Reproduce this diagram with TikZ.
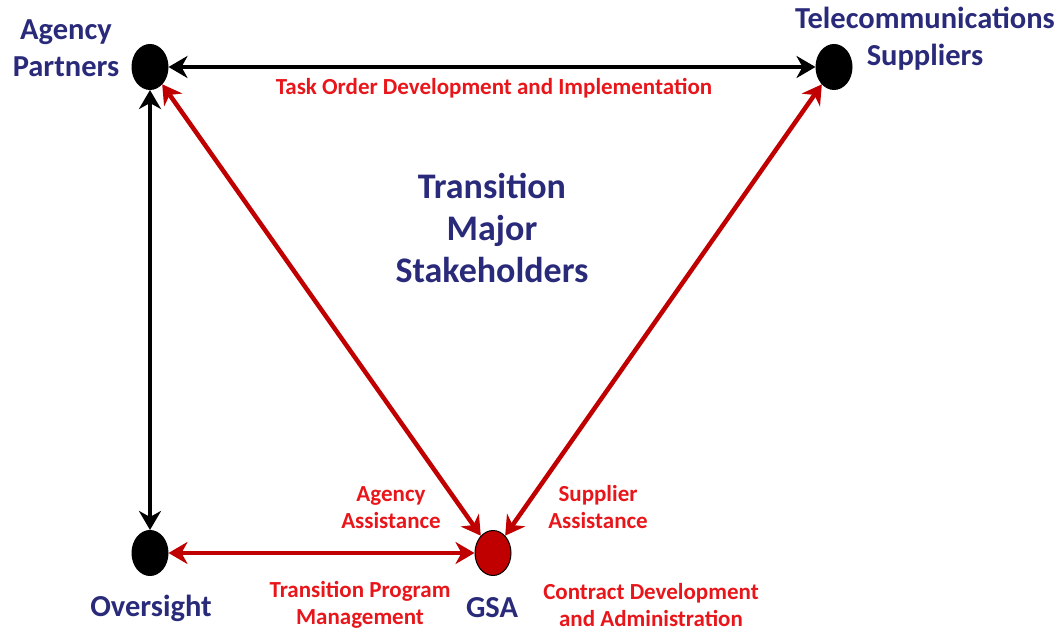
\documentclass[tikz,border=0pt]{standalone}
\usepackage{fontspec}
\setmainfont{Carlito}
\usetikzlibrary{shapes.geometric,arrows.meta}
\definecolor{navy}{RGB}{42,42,122}
\definecolor{lblred}{RGB}{232,22,26}
\definecolor{arrred}{RGB}{192,0,0}
\begin{document}
\begin{tikzpicture}[x=1pt,y=1pt,
    dot/.style={ellipse,draw=black,line width=1pt,fill=black,minimum width=36pt,minimum height=45pt,inner sep=0pt},
    who/.style={navy,font=\bfseries\fontsize{30.5}{37}\selectfont,align=center,inner sep=0pt},
    role/.style={lblred,font=\bfseries\fontsize{23}{27}\selectfont,align=center,inner sep=0pt},
    link/.style={line width=4.5pt,{Stealth[length=19pt,width=22pt,inset=6pt]}-{Stealth[length=19pt,width=22pt,inset=6pt]}}]
    \useasboundingbox (0,0) rectangle (1060,632);
    % stakeholders
    \node[dot] (ap) at (150,565) {};
    \node[dot] (ts) at (834,565) {};
    \node[dot] (ov) at (150,79) {};
    \node[dot,fill=arrred] (gsa) at (493,79) {};
    \node[who] (apl) at (66,584) {Agency\\Partners};
    \node[who] (tsl) at (925,593) {Telecommunications\\Suppliers};
    \node[who] (ovl) at (151,24) {Oversight};
    \node[who] (gsal) at (492,24) {GSA};
    \node[who,font=\bfseries\fontsize{36}{42}\selectfont] (title) at (492,404) {Transition\\Major\\Stakeholders};
    % relationships
    \path[link]%
      (ap) edge [black] (ts)
      (ap) edge [black] (ov)
      (ov) edge [arrred] (gsa)
      (gsa) edge [arrred] (ap)
      (gsa) edge [arrred] (ts);
    \node[role] (task) at (494,544) {Task Order Development and Implementation};
    \node[role] (aa) at (391,124) {Agency\\Assistance};
    \node[role] (sa) at (598,125) {Supplier\\Assistance};
    \node[role] (tpm) at (360,27) {Transition Program\\Management};
    \node[role] (cda) at (651,27) {Contract Development\\and Administration};
\end{tikzpicture}
\end{document}
